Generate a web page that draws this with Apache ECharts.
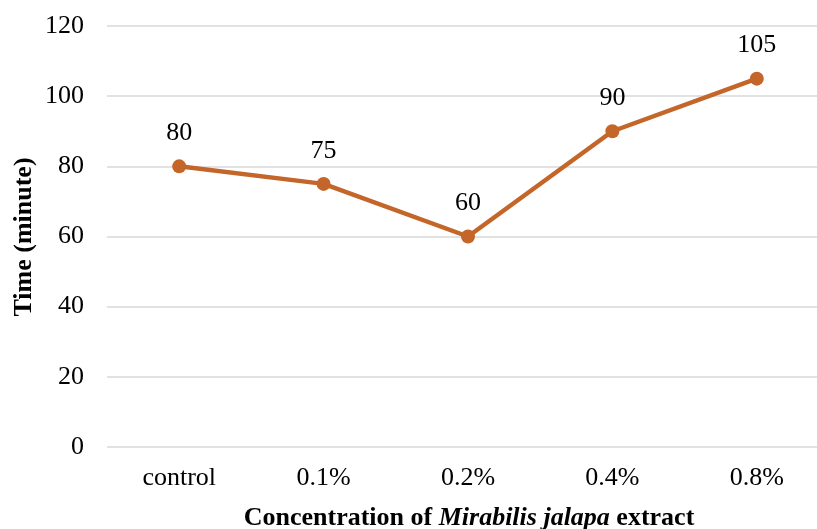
<!DOCTYPE html>
<html>
<head>
<meta charset="utf-8">
<script src="https://cdn.jsdelivr.net/npm/echarts@6/dist/echarts.min.js"></script>
<style>
  html, body { margin: 0; padding: 0; background: #fff; }
  #chart { width: 817px; height: 529px; }
</style>
</head>
<body>
<div id="chart"></div>
<script>
const categories = ['control', '0.1%', '0.2%', '0.4%', '0.8%']
const timeValues = [80, 75, 60, 90, 105]
const yTicks = [0, 20, 40, 60, 80, 100, 120]

const font = 'Liberation Serif, Times New Roman, serif'
const lineColor = '#C4652A'

const chart = echarts.init(document.getElementById('chart'))
chart.setOption({
  backgroundColor: '#fff',
  animation: false,
  grid: { left: 107, top: 26, width: 722, height: 421, outerBoundsMode: 'none', containLabel: false },
  xAxis: {
    type: 'category',
    data: categories,
    boundaryGap: true,
    axisLine: { show: false },
    axisTick: { show: false },
    axisLabel: { color: '#000', fontFamily: font, fontSize: 26, margin: 18 },
    splitLine: { show: false }
  },
  yAxis: {
    type: 'value',
    min: yTicks[0],
    max: yTicks[yTicks.length - 1],
    interval: 20,
    axisLine: { show: false },
    axisTick: { show: false },
    axisLabel: { color: '#000', fontFamily: font, fontSize: 26, margin: 23 },
    splitLine: { lineStyle: { color: '#d9d9d9', width: 1.5 } }
  },
  graphic: [
    {
      type: 'text',
      x: 469,
      y: 518,
      style: {
        rich: {
          b: { fontFamily: font, fontSize: 26, fontWeight: 'bold', fill: '#000' },
          i: { fontFamily: font, fontSize: 26, fontWeight: 'bold', fontStyle: 'italic', fill: '#000' }
        },
        text: '{b|Concentration of }{i|Mirabilis jalapa}{b| extract}',
        align: 'center',
        verticalAlign: 'middle'
      }
    },
    {
      type: 'text',
      x: 24,
      y: 237,
      rotation: Math.PI / 2,
      style: {
        text: 'Time (minute)',
        fontFamily: font,
        fontSize: 26,
        fontWeight: 'bold',
        fill: '#000',
        align: 'center',
        verticalAlign: 'middle'
      }
    }
  ],
  series: [{
    type: 'line',
    data: timeValues,
    symbol: 'circle',
    symbolSize: 14,
    lineStyle: { color: lineColor, width: 4.5 },
    itemStyle: { color: lineColor },
    label: {
      show: true,
      position: 'top',
      distance: 13,
      color: '#000',
      fontFamily: font,
      fontSize: 26
    }
  }]
})
</script>
</body>
</html>
